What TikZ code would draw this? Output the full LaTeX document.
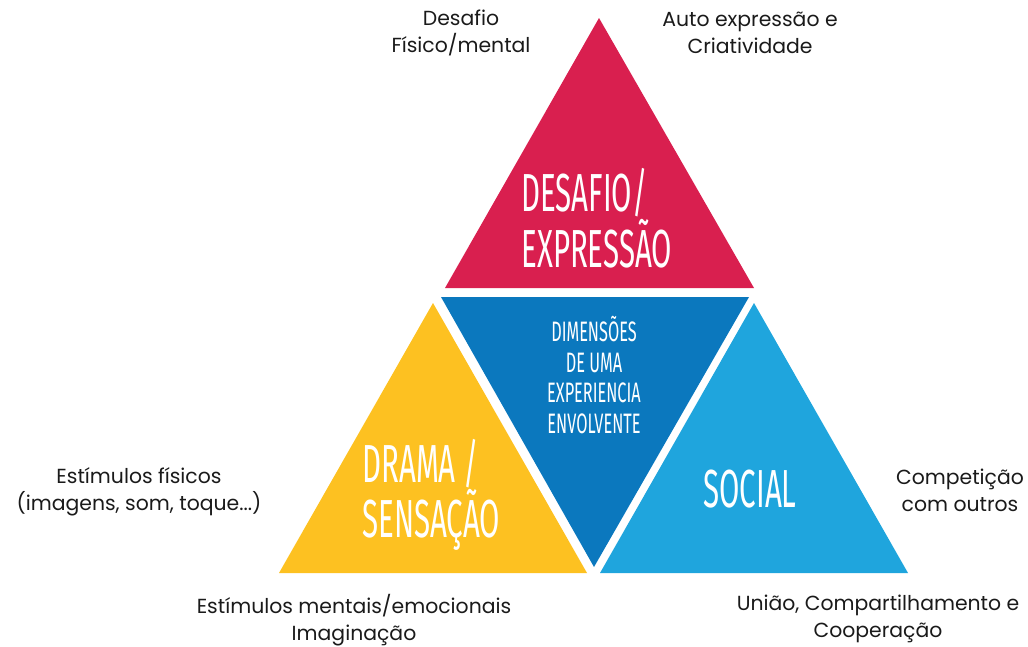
\documentclass[tikz,border=0pt]{standalone}
\usepackage{fontspec}
\setmainfont{Poppins}
\newfontfamily\ttlfont[FakeStretch=0.55]{Fira Sans}
\newfontfamily\subfont[FakeStretch=0.58]{Fira Sans}
\usetikzlibrary{positioning}
\definecolor{cRed}{HTML}{D91F4F}
\definecolor{cYel}{HTML}{FDC121}
\definecolor{cDark}{HTML}{0B78BE}
\definecolor{cLight}{HTML}{1FA5DD}
\definecolor{cTxt}{HTML}{1A1A1A}
\tikzset{
  lbl/.style={align=center, font=\fontsize{11.6}{15.4}\selectfont, text=cTxt, inner sep=0pt},
  ttl/.style={align=left, font=\ttlfont\fontsize{30.5}{29.5}\selectfont, text=white, inner sep=0pt},
  ttlsmall/.style={align=center, font=\subfont\fontsize{16}{17.6}\selectfont, text=white, inner sep=0pt},
}

\begin{document}
\begin{tikzpicture}[x=0.02cm, y=-0.02cm]
    \useasboundingbox (0,0) rectangle (1028,646);
    % the four triangles
    \fill[cRed] (599,18) -- (754,288) -- (445,288) -- cycle;
    \fill[cDark] (441,297) -- (749,297) -- (594,567) -- cycle;
    \fill[cYel] (433,303) -- (587,573) -- (279,573) -- cycle;
    \fill[cLight] (754,303) -- (908,573) -- (600,573) -- cycle;
    % titles inside
    \node[ttl, anchor=west] (desafio) at (521,218) {DESAFIO/\\EXPRESSÃO};
    \node[ttlsmall] (centro) at (594,375) {DIMENSÕES\\DE UMA\\EXPERIENCIA\\ENVOLVENTE};
    \node[ttl, anchor=west] (drama) at (362,495) {DRAMA /\\SENSAÇÃO};
    \node[ttl] (social) at (750,489) {SOCIAL};
    % notes around
    \node[lbl] (fisico) at (461,33) {Desafio\\Físico/mental};
    \node[lbl] (auto) at (750,33) {Auto expressão e\\Criatividade};
    \node[lbl] (estim) at (139,492) {Estímulos físicos\\(imagens, som, toque...)};
    \node[lbl] (compet) at (960,490) {Competição\\com outros};
    \node[lbl] (mental) at (354,620) {Estímulos mentais/emocionais\\Imaginação};
    \node[lbl] (uniao) at (878,619) {União, Compartilhamento e\\Cooperação};
\end{tikzpicture}
\end{document}
